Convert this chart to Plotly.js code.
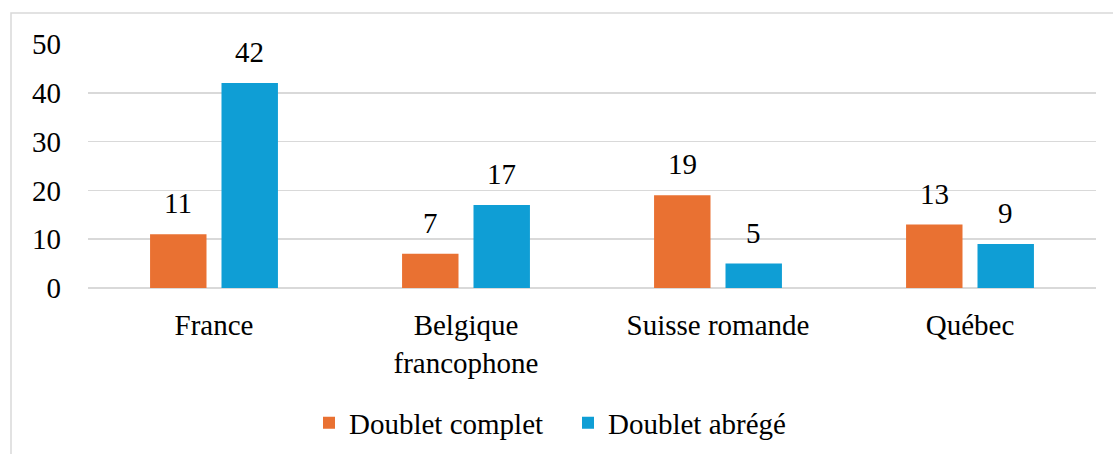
<!DOCTYPE html>
<html>
<head>
<meta charset="utf-8">
<script src="https://cdn.plot.ly/plotly-3.0.1.min.js"></script>
<style>
html,body{margin:0;padding:0;background:#fff;}
#chart{width:1113px;height:454px;}
</style>
</head>
<body>
<div id="chart"></div>
<script>
const categories = ["France", "Belgique<br>francophone", "Suisse romande", "Québec"];
const seriesNames = ["Doublet complet", "Doublet abrégé"];
const doubletComplet = [11, 7, 19, 13];
const doubletAbrege = [42, 17, 5, 9];
const yTicks = [0, 10, 20, 30, 40, 50];

const FONT = "Liberation Serif, Times New Roman, serif";
const colors = ["#E97132", "#0F9ED5"];
const series = [doubletComplet, doubletAbrege];

const traces = series.map((vals, i) => ({
  type: "bar",
  name: seriesNames[i],
  x: categories,
  y: vals,
  marker: {color: colors[i]},
  hoverinfo: "none"
}));

const plotL = 88, plotR = 1096, plotT = 44, plotB = 288;
const pw = plotR - plotL, ph = plotB - plotT;
const slotPx = 71.5;

const annotations = [];
series.forEach((vals, i) => {
  vals.forEach((v, j) => {
    annotations.push({
      x: categories[j], y: v, xref: "x", yref: "y",
      text: String(v), showarrow: false,
      xanchor: "center", yanchor: "middle",
      xshift: (i - 0.5) * slotPx, yshift: 31,
      font: {family: FONT, size: 29, color: "#000"}
    });
  });
});

const layout = {
  width: 1113, height: 454,
  margin: {l: plotL, r: 1113 - plotR, t: plotT, b: 454 - plotB, pad: 0, autoexpand: false},
  paper_bgcolor: "#fff", plot_bgcolor: "#fff",
  font: {family: FONT, size: 29, color: "#000"},
  barmode: "group",
  bargap: 0.433,
  bargroupgap: 0.21,
  showlegend: true,
  legend: {
    orientation: "h", x: (309 - plotL) / pw, xanchor: "left", y: -0.553, yanchor: "middle",
    bgcolor: "rgba(0,0,0,0)",
    entrywidth: 214, entrywidthmode: "pixels",
    font: {family: FONT, size: 29, color: "#000"},
    tracegroupgap: 0
  },
  xaxis: {
    type: "category",
    showgrid: false, zeroline: false, showline: false,
    ticks: "", tickfont: {family: FONT, size: 29, color: "#000"},
    ticklabelstandoff: 17
  },
  yaxis: {
    range: [0, 50], tickvals: yTicks, ticktext: yTicks.map(String),
    showgrid: true, gridcolor: "#d9d9d9", gridwidth: 1.5,
    zeroline: true, zerolinecolor: "#d9d9d9", zerolinewidth: 1.5,
    showline: false, ticks: "",
    tickfont: {family: FONT, size: 29, color: "#000"},
    ticklabelstandoff: 26
  },
  annotations: annotations,
  shapes: [{
    type: "rect", xref: "paper", yref: "paper",
    x0: (11 - plotL) / pw, x1: (1125 - plotL) / pw,
    y0: -(470 - plotB) / ph, y1: 1 + (plotT - 13) / ph,
    line: {color: "#d9d9d9", width: 1.5}, fillcolor: "rgba(0,0,0,0)", layer: "below"
  }]
};

Plotly.newPlot("chart", traces, layout, {staticPlot: true, displayModeBar: false});
</script>
</body>
</html>
